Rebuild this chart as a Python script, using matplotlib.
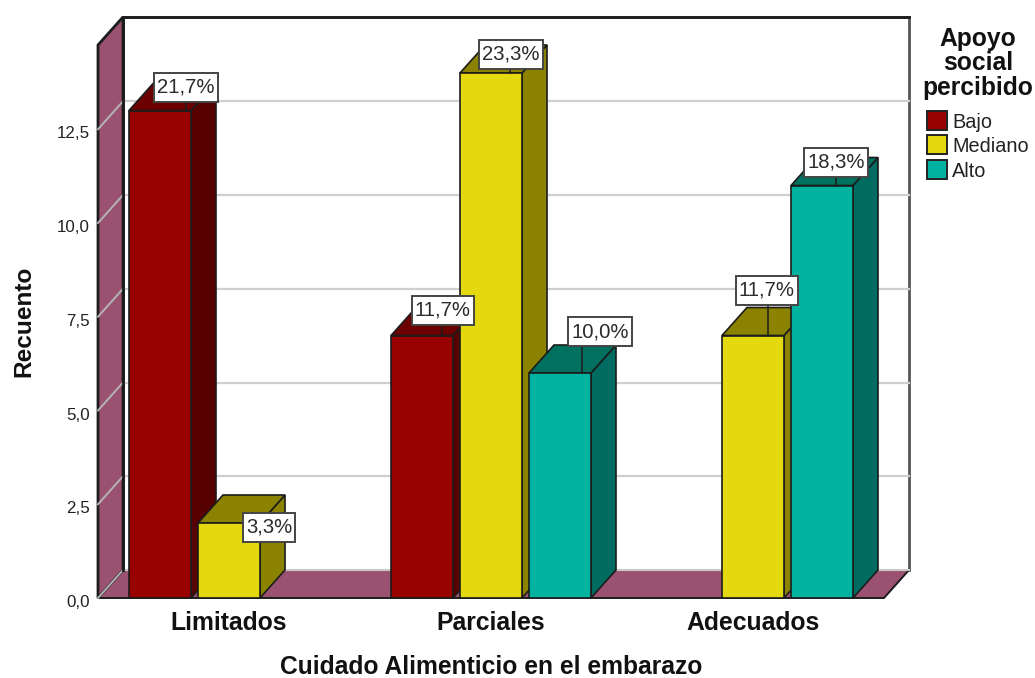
#!/usr/bin/env python3

import matplotlib
matplotlib.use("Agg")
import matplotlib.pyplot as plt
from matplotlib.patches import Polygon, Rectangle
from matplotlib.path import Path
from matplotlib.transforms import ScaledTranslation

plt.rcParams['font.family'] = ['Liberation Sans', 'DejaVu Sans']

categories = ["Limitados", "Parciales", "Adecuados"]
series = ["Bajo", "Mediano", "Alto"]
bajo = [13, 7, None]
mediano = [2, 14, 7]
alto = [None, 6, 11]
total = 60
y_ticks = [0, 2.5, 5, 7.5, 10, 12.5]
y_tick_labels = ["0,0", "2,5", "5,0", "7,5", "10,0", "12,5"]

front_colors = ["#990000", "#e4d80e", "#00b3a0"]
side_colors = ["#560000", "#8b8300", "#006b60"]
top_colors = ["#6c0000", "#8b8300", "#00705f"]
wall_color = "#9b5270"
edge = "#1c1c1c"

# pixel offsets of each value box from the top left corner of its bar,
# and where its leader line lands on the bar's top edge
box_offsets = {
    (0, 0): (57, 23.5), (0, 1): (71, -4),
    (1, 0): (51.5, 25), (1, 1): (51, 19), (1, 2): (71, 41.5),
    (2, 1): (44.5, 45), (2, 2): (45, 23.5),
}
leader_x = {
    (0, 0): 57, (0, 1): 60,
    (1, 0): 51, (1, 1): 50, (1, 2): 53,
    (2, 1): 46, (2, 2): 45,
}

px_x = 1 / 262      # x units per pixel
px_y = 1 / 37.5     # y units per pixel
dx = 25 * px_x      # depth of the box
dy = 28 * px_y
bar_w = 62 * px_x
bar_step = 69 * px_x
y_top = 553 * px_y

fig = plt.figure(figsize=(10.35, 6.78), dpi=100)
ax = fig.add_axes([98 / 1035, 80 / 678, 786 / 1035, 553 / 678])
ax.set_xlim(-0.5, 2.5)
ax.set_ylim(0, y_top)
for s in ax.spines.values():
    s.set_visible(False)


def face(points, color, ec=edge, lw=1.2, z=3):
    ax.add_patch(Polygon(points, closed=True, fc=color, ec=ec, lw=lw, zorder=z,
                         clip_on=False, joinstyle='miter'))


def value_box(x0, y0, w, h, mutation_size):
    # value boxes keep a fixed height, wider padding than the text needs vertically
    cy = y0 + h / 2
    x_a, x_b = x0 - 3, x0 + w + 3
    y_a, y_b = cy - 14.5, cy + 14.5
    return Path([(x_a, y_a), (x_b, y_a), (x_b, y_b), (x_a, y_b), (x_a, y_a)], closed=True)


# back wall, floor and left wall
face([(-0.5 + dx, dy), (2.5 + dx, dy), (2.5 + dx, y_top + dy), (-0.5 + dx, y_top + dy)],
     "white", ec="#555555", lw=2, z=1)
ax.plot([-0.5 + dx, -0.5 + dx, 2.5 + dx], [dy, y_top + dy, y_top + dy], color="#1c1c1c",
        lw=2, zorder=1.6, clip_on=False)
face([(-0.5, 0), (2.5, 0), (2.5 + dx, dy), (-0.5 + dx, dy)], wall_color, ec="none", lw=0, z=1.2)
face([(-0.5, 0), (-0.5 + dx, dy), (-0.5 + dx, y_top + dy), (-0.5, y_top)], wall_color,
     ec="#1c1c1c", lw=2, z=1.4)
ax.plot([-0.5, 2.5, 2.5 + dx], [0, 0, dy], color=edge, lw=1.4, zorder=1.5, clip_on=False)
ax.plot([-0.5 + dx, 2.5 + dx], [dy, dy], color="#c8c8c8", lw=1.5, zorder=1.5, clip_on=False)

# grid runs along the back wall and slants down the left wall
for t in y_ticks:
    ax.plot([-0.5, -0.5 + dx], [t, t + dy], color="#b4b4b4", lw=1.4, zorder=1.5, clip_on=False)
    if t > 0:
        ax.plot([-0.5 + dx, 2.5 + dx], [t + dy, t + dy], color="#cfcfcf", lw=1.6, zorder=1.1,
                clip_on=False)

for i in range(len(categories)):
    for j, values in enumerate([bajo, mediano, alto]):
        v = values[i]
        if v is None:
            continue
        x0 = i + (j - 1) * bar_step - bar_w / 2
        x1 = x0 + bar_w
        z = 3 + i + j * 0.1
        face([(x1, 0), (x1 + dx, dy), (x1 + dx, v + dy), (x1, v)], side_colors[j], z=z)
        face([(x0, v), (x1, v), (x1 + dx, v + dy), (x0 + dx, v + dy)], top_colors[j], z=z)
        face([(x0, 0), (x1, 0), (x1, v), (x0, v)], front_colors[j], z=z)
        off = box_offsets[(i, j)]
        # short vertical leader from the bar's top edge up to the value box
        if off[1] > 0:
            lx = x0 + leader_x[(i, j)] * px_x
            ax.plot([lx, lx], [v, v + off[1] * px_y], color=edge, lw=1.1, zorder=19,
                    clip_on=False)
        text = f"{v / total * 100:.1f}%".replace(".", ",")
        ax.annotate(text, xy=(x0, v), xytext=(off[0] * 0.72, off[1] * 0.72),
                    textcoords='offset points', ha='center', va='center', fontsize=14.6,
                    color="#2a2a2a", zorder=20,
                    bbox=dict(boxstyle=value_box, fc="white", ec="#444444", lw=1.4))

ax.set_yticks(y_ticks, y_tick_labels, fontsize=12.2, color="#222222")
ax.set_xticks(range(len(categories)), categories, fontsize=17.8, fontweight='bold', color="#111111")
ax.tick_params(axis='y', length=0, pad=6)
ax.tick_params(axis='x', length=0, pad=9)
for lab in ax.get_yticklabels():
    lab.set_transform(lab.get_transform() + ScaledTranslation(0, -3 / 100, fig.dpi_scale_trans))
ax.set_xlabel("Cuidado Alimenticio en el embarazo", fontsize=17.7, fontweight='bold', labelpad=14.5,
              color="#111111")
ax.set_ylabel("Recuento", fontsize=17.6, fontweight='bold', labelpad=15, color="#111111")

# legend block on the right
fig.text(978 / 1035, 1 - 27 / 678, "Apoyo\nsocial\npercibido", ha='center', va='top',
         multialignment='center', fontsize=17.7, fontweight='bold', linespacing=1.02, color="#111111")
for k, name in enumerate(series):
    top = 111 + 24.5 * k
    fig.add_artist(Rectangle((927 / 1035, 1 - (top + 18.5) / 678), 20 / 1035, 18.5 / 678,
                             transform=fig.transFigure, fc=front_colors[k], ec="#222222", lw=1.4))
    fig.text(952 / 1035, 1 - (123 + 24 * k) / 678, name, ha='left', va='center', fontsize=14.3,
             color="#222222")

fig.savefig("out.png", dpi=100)
